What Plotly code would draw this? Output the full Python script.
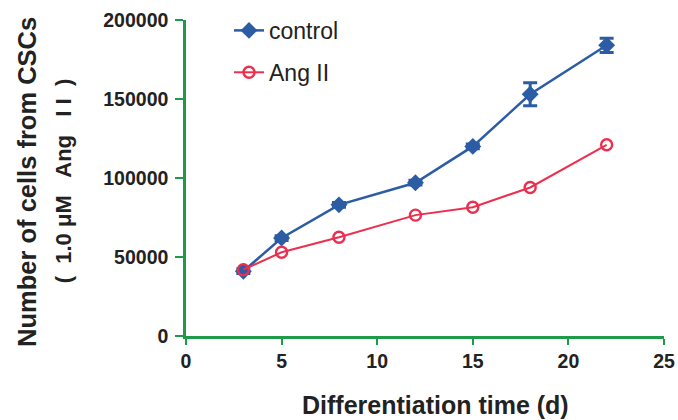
import plotly.graph_objects as go

days = [3, 5, 8, 12, 15, 18, 22]
control = [41000, 62000, 83000, 97000, 120000, 153000, 184000]
control_err = [1500, 1500, 1500, 1500, 1500, 7300, 4500]
ang2 = [42000, 53000, 62500, 76500, 81500, 94000, 121000]

x_ticks = [0, 5, 10, 15, 20, 25]
y_ticks = [0, 50000, 100000, 150000, 200000]

blue = "#2b5ca4"
red = "#ec2f4e"
green = "#1e9b48"
font_family = "Liberation Sans, Arial, sans-serif"

fig = go.Figure()
fig.add_trace(go.Scatter(
    x=days, y=control, mode="lines+markers", name="control", legendgroup="a",
    line=dict(color=blue, width=2.5),
    marker=dict(symbol="diamond", size=13, color=blue),
    error_y=dict(type="data", array=control_err, color=blue, thickness=3, width=7),
))
fig.add_trace(go.Scatter(
    x=days, y=ang2, mode="lines+markers", name="Ang II", legendgroup="b",
    line=dict(color=red, width=2),
    marker=dict(symbol="circle-open", size=11, color=red, line=dict(width=2.4)),
))

axis_font = dict(family=font_family, size=19.5, color="#222", weight="bold")

fig.update_layout(
    width=678, height=420,
    margin=dict(l=186, r=14, t=20, b=84, autoexpand=False),
    paper_bgcolor="white", plot_bgcolor="white",
    showlegend=True,
    legend=dict(x=0.09, y=1.035, xanchor="left", yanchor="top",
                font=dict(family=font_family, size=23, color="#222"),
                bgcolor="rgba(0,0,0,0)", tracegroupgap=9),
    xaxis=dict(range=[0, 25], tickvals=x_ticks, showgrid=False, zeroline=False,
               showline=True, linecolor=green, linewidth=2.5,
               ticks="outside", tickcolor=green, tickwidth=2, ticklen=6,
               tickfont=axis_font, automargin=False),
    yaxis=dict(range=[0, 200000], tickvals=y_ticks, showgrid=False, zeroline=False,
               showline=True, linecolor=green, linewidth=2.5,
               ticks="outside", tickcolor=green, tickwidth=2, ticklen=8,
               ticklabelstandoff=3,
               tickfont=axis_font, tickformat="d", automargin=False),
    annotations=[
        dict(text="Number of cells from CSCs", textangle=-90, xref="paper", yref="paper",
             x=-0.333, y=0.487, xanchor="center", yanchor="middle", showarrow=False,
             font=dict(family=font_family, size=25.5, color="#222", weight="bold")),
        dict(text="(  1.0 μM   Ang   I I  )", textangle=-90, xref="paper", yref="paper",
             x=-0.257, y=0.49, xanchor="center", yanchor="middle", showarrow=False,
             font=dict(family=font_family, size=22, color="#222", weight="bold")),
        dict(text="Differentiation time (d)", xref="paper", yref="paper",
             x=0.523, y=-0.218, xanchor="center", yanchor="middle", showarrow=False,
             font=dict(family=font_family, size=25, color="#222", weight="bold")),
    ],
)

fig.write_html("out.html", config={"displayModeBar": False},
               post_script="document.body.style.margin='0';")
